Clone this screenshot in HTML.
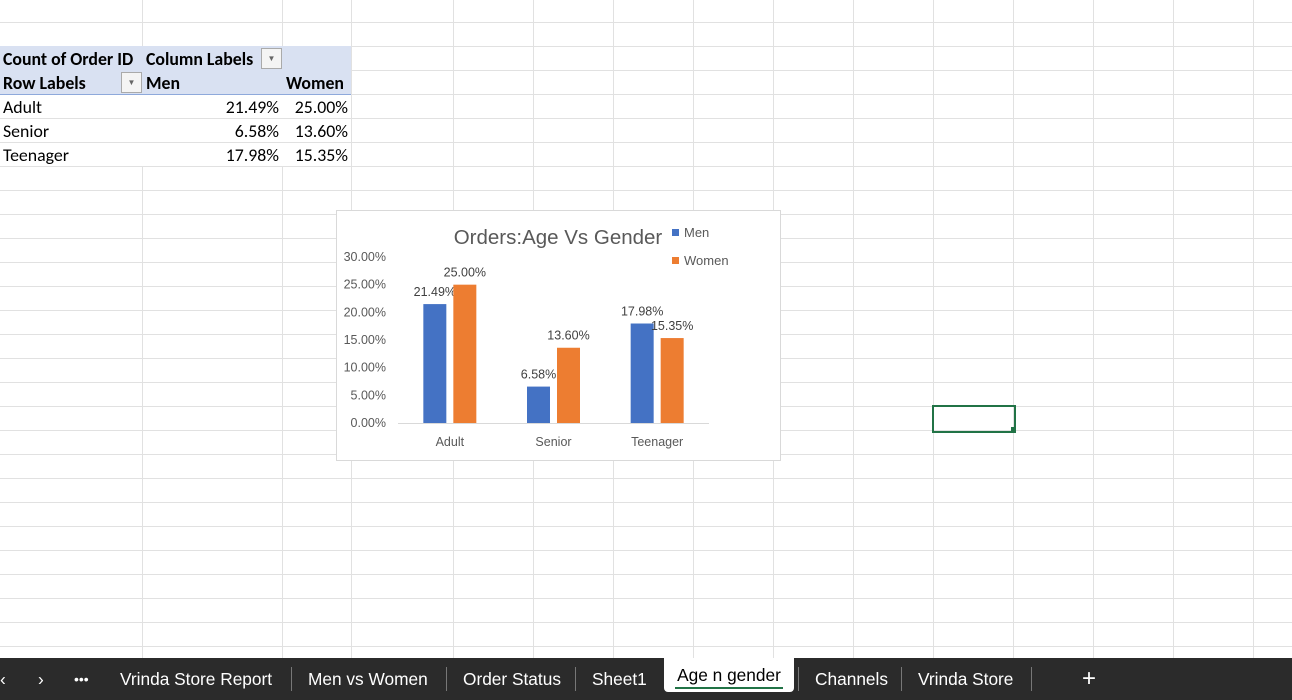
<!DOCTYPE html>
<html><head><meta charset="utf-8">
<style>
body{margin:0;width:1292px;height:700px;overflow:hidden;background:#fff;font-family:"Liberation Sans",sans-serif;position:relative}
.abs{position:absolute}
.cell{position:absolute;font-family:Calibri,"Carlito","Liberation Sans",sans-serif;font-size:17.8px;color:#000;line-height:24px}
.b{font-weight:bold}
.tab{position:absolute;top:658px;height:42px;line-height:42px;color:#fff;font-size:17.3px;font-family:"Liberation Sans",sans-serif}
.sep{position:absolute;top:667px;width:1px;height:24px;background:#777}
</style></head><body>
<svg class="abs" style="left:0;top:0" width="1292" height="660" id="grid"></svg>
<div class="abs" style="left:0;top:46px;width:351px;height:48px;background:#d9e1f2;border-bottom:1px solid #8ea9db"></div>
<div class="cell b" style="left:3px;top:47px">Count of Order ID</div>
<div class="cell b" style="left:146px;top:47px">Column Labels</div>
<div class="abs" style="left:261px;top:48px;width:19px;height:19px;border:1px solid #aaa;background:#f4f4f4;font-size:8px;text-align:center;line-height:19px;color:#666">▼</div>
<div class="cell b" style="left:3px;top:71px">Row Labels</div>
<div class="abs" style="left:121px;top:72px;width:19px;height:19px;border:1px solid #aaa;background:#f4f4f4;font-size:8px;text-align:center;line-height:19px;color:#666">▼</div>
<div class="cell b" style="left:146px;top:71px">Men</div>
<div class="cell b" style="left:286px;top:71px">Women</div>
<div class="cell" style="left:3px;top:95px">Adult</div>
<div class="cell" style="left:3px;top:119px">Senior</div>
<div class="cell" style="left:3px;top:143px">Teenager</div>
<div class="cell" style="left:142px;top:95px;width:137px;text-align:right">21.49%</div>
<div class="cell" style="left:282px;top:95px;width:66px;text-align:right">25.00%</div>
<div class="cell" style="left:142px;top:119px;width:137px;text-align:right">6.58%</div>
<div class="cell" style="left:282px;top:119px;width:66px;text-align:right">13.60%</div>
<div class="cell" style="left:142px;top:143px;width:137px;text-align:right">17.98%</div>
<div class="cell" style="left:282px;top:143px;width:66px;text-align:right">15.35%</div>

<div class="abs" style="left:932px;top:405px;width:80px;height:24px;border:2px solid #217346"></div>
<div class="abs" style="left:1011px;top:427px;width:5px;height:5px;background:#217346"></div>

<svg class="abs" id="chart" style="left:336px;top:210px" width="445" height="251"></svg>

<div class="abs" style="left:0;top:658px;width:1292px;height:42px;background:#2b2b2b"></div>
<div class="tab" style="left:0">‹</div>
<div class="tab" style="left:38px">›</div>
<div class="tab" style="left:74px;font-size:14px">•••</div>
<div class="tab" style="left:120px">Vrinda Store Report</div>
<div class="sep" style="left:291px"></div>
<div class="tab" style="left:308px">Men vs Women</div>
<div class="sep" style="left:446px"></div>
<div class="tab" style="left:463px">Order Status</div>
<div class="sep" style="left:575px"></div>
<div class="tab" style="left:592px">Sheet1</div>
<div class="abs" style="left:664px;top:658px;width:130px;height:34px;background:#fff;border-radius:0 0 4px 4px;color:#000;font-size:17.3px;text-align:center;line-height:34px">Age n gender<div style="position:absolute;left:11px;right:11px;bottom:3px;height:2px;background:#217346"></div></div>
<div class="sep" style="left:798px"></div>
<div class="tab" style="left:815px">Channels</div>
<div class="sep" style="left:901px"></div>
<div class="tab" style="left:918px">Vrinda Store</div>
<div class="sep" style="left:1031px"></div>
<div class="tab" style="left:1082px;font-size:24px">+</div>

<script>
const NS='http://www.w3.org/2000/svg';
function mk(p,t,a){const e=document.createElementNS(NS,t);for(const k in a)e.setAttribute(k,a[k]);p.appendChild(e);return e;}
const g=document.getElementById('grid');
[142,282,351,453,533,613,693,773,853,933,1013,1093,1173,1253].forEach(x=>{
 const top=(x<=282)?[[0,46],[166,660]]:[[0,660]];
 top.forEach(s=>{const l=mk(g,'line',{x1:x+.5,x2:x+.5,y1:s[0],y2:s[1],stroke:'#e1e1e1'});});
});
for(let y=22;y<660;y+=24){const l=mk(g,'line',{x1:0,x2:1292,y1:y+.5,y2:y+.5,stroke:'#e1e1e1'});}

const categories=['Adult','Senior','Teenager'];
const menValues=[21.49,6.58,17.98];
const womenValues=[25.00,13.60,15.35];
const yTicks=[0,5,10,15,20,25,30];
const seriesNames=['Men','Women'];

const c=document.getElementById('chart');
mk(c,'rect',{x:.5,y:.5,width:444,height:250,fill:'#fff',stroke:'#d9d9d9'});
const y0=213,pxPer=166/30,xl=62,xr=373,band=(xr-xl)/categories.length;
const Y=v=>y0-v*pxPer, X=i=>xl+band*(i+.5);
const f='font-family:"Liberation Sans",sans-serif';
yTicks.forEach(t=>{const tx=mk(c,'text',{x:50,y:Y(t)+4,'text-anchor':'end','font-size':12.5,fill:'#595959',style:f});tx.textContent=t.toFixed(2)+'%';});
mk(c,'line',{x1:xl,x2:xr,y1:y0+.5,y2:y0+.5,stroke:'#d9d9d9'});
const bw=23,gap=7,cols=['#4472c4','#ed7d31'];
categories.forEach((cat,i)=>{
 const t=mk(c,'text',{x:X(i),y:236,'text-anchor':'middle','font-size':12.5,fill:'#595959',style:f});t.textContent=cat;
 
 [menValues[i],womenValues[i]].forEach((v,s)=>{
  const x=X(i)+(s===0?-(bw+gap/2):gap/2);
  const r=mk(c,'rect',{x:x,y:Y(v),width:bw,height:v*pxPer,fill:cols[s]});
  
  
  const l=mk(c,'text',{x:x+bw/2,y:Y(v)-8,'text-anchor':'middle','font-size':12.5,fill:'#404040',style:f});l.textContent=v.toFixed(2)+'%';
  
 });
});
const ti=mk(c,'text',{x:222,y:34,'text-anchor':'middle','font-size':20.5,fill:'#595959',style:f});ti.textContent='Orders:Age Vs Gender';

seriesNames.forEach((n,s)=>{
 mk(c,'rect',{x:336,y:19+s*28,width:7,height:7,fill:cols[s]});
 const t=mk(c,'text',{x:348,y:27+s*28,'font-size':13,fill:'#595959',style:f});t.textContent=n;
 
});
</script>
</body></html>
